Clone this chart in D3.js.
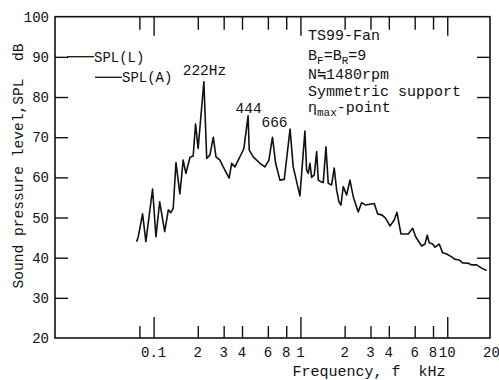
<!DOCTYPE html>
<html>
<head>
<meta charset="utf-8">
<script src="https://cdn.jsdelivr.net/npm/d3@7"></script>
<style>
  html, body { margin: 0; padding: 0; background: #fff; }
  svg { display: block; }
  text { font-family: "Liberation Mono", "DejaVu Sans Mono", monospace; fill: #111; }
</style>
</head>
<body>
<svg id="chart" width="499" height="380"></svg>
<script>
// spectrum: frequency in kHz, level in dB
const freqKHz = [0.0766, 0.0785, 0.0841, 0.0886, 0.0984, 0.1037, 0.110, 0.119, 0.126, 0.131,
  0.136, 0.142, 0.151, 0.159, 0.166, 0.177, 0.186, 0.193, 0.201, 0.220,
  0.230, 0.242, 0.255, 0.266, 0.283, 0.298, 0.314, 0.327, 0.340, 0.358,
  0.377, 0.398, 0.412, 0.440, 0.448, 0.477, 0.530, 0.573, 0.610, 0.645,
  0.678, 0.725, 0.776, 0.850, 0.893, 0.992, 1.073, 1.102, 1.130, 1.161,
  1.192, 1.242, 1.290, 1.322, 1.379, 1.430, 1.492, 1.547, 1.631, 1.699,
  1.765, 1.829, 1.887, 1.957, 2.064, 2.174, 2.289, 2.476, 2.612, 2.781,
  3.183, 3.357, 3.607, 3.806, 4.071, 4.355, 4.544, 4.837, 5.424, 5.812,
  6.091, 6.693, 7.05, 7.31, 7.54, 7.95, 8.25, 8.82, 9.30, 9.91,
  10.72, 11.28, 12.07, 12.73, 13.90, 14.66, 15.86, 17.15, 18.55];
const splDB = [44.0, 45.1, 50.9, 44.0, 57.1, 45.2, 53.9, 46.5, 51.9, 51.2,
  52.3, 63.7, 55.9, 64.3, 61.0, 65.0, 65.3, 73.3, 67.2, 83.8,
  64.7, 65.6, 70.0, 65.1, 64.3, 62.6, 61.0, 59.8, 63.5, 62.6,
  64.3, 66.0, 67.2, 75.3, 66.8, 65.1, 63.5, 62.6, 64.3, 70.0,
  63.5, 59.3, 59.5, 72.0, 62.6, 55.4, 71.5, 61.8, 61.0, 63.5,
  60.0, 60.6, 66.4, 59.3, 58.9, 58.7, 67.6, 58.5, 58.1, 62.3,
  56.8, 53.9, 53.1, 57.7, 55.6, 59.3, 55.2, 51.4, 53.7, 53.1,
  53.5, 50.9, 50.6, 49.8, 47.9, 49.4, 51.3, 45.9, 45.9, 47.3,
  45.2, 42.9, 43.4, 45.6, 43.7, 43.4, 42.6, 43.4, 41.2, 40.9,
  40.2, 39.6, 39.4, 38.7, 38.6, 38.2, 38.2, 37.4, 36.8];

const minorTicks = [0.08, 0.2, 0.3, 0.4, 0.6, 0.8, 2, 3, 4, 6, 8];
const majorTicks = [0.1, 1, 10];
const xLabelValues = [0.1, 0.2, 0.3, 0.4, 0.6, 0.8, 1, 2, 3, 4, 6, 8, 10, 20];
const xLabelTexts = ["0.1", "2", "3", "4", "6", "8", "1", "2", "3", "4", "6", "8", "10", "20"];
const yTicks = [20, 30, 40, 50, 60, 70, 80, 90, 100];

const peakLabels = ["222Hz", "444", "666"];
const peakFreq = [0.222, 0.444, 0.666];
const peakLevel = [85.5, 76.0, 72.5];

const infoLines = [
  [["TS99-Fan", 0]],
  [["B", 0], ["F", 1], ["=B", 0], ["R", 1], ["=9", 0]],
  [["N\u22521480rpm", 0]],
  [["Symmetric support", 0]],
  [["\u03b7", 0], ["max", 1], ["-point", 0]]
];

const svg = d3.select("#chart");
const plotLeft = 55, plotRight = 490, plotTop = 16.7, plotBottom = 338;
const ink = "#111";

const x = d3.scaleLog().domain([0.0213, 19.55]).range([plotLeft, plotRight]);
const y = d3.scaleLinear().domain([20, 100]).range([plotBottom, plotTop]);

// ticks, all pointing into the frame
function tickAxis(axis, translate, size, values) {
  const g = svg.append("g")
    .attr("transform", translate)
    .call(axis.tickValues(values).tickSize(-size).tickFormat(""));
  g.select(".domain").remove();
  g.selectAll(".tick line").attr("stroke", ink).attr("stroke-width", 1.4);
  return g;
}
tickAxis(d3.axisBottom(x), "translate(0," + plotBottom + ")", 12, minorTicks);
tickAxis(d3.axisBottom(x), "translate(0," + plotBottom + ")", 21, majorTicks);
tickAxis(d3.axisTop(x), "translate(0," + plotTop + ")", 13, minorTicks);
tickAxis(d3.axisTop(x), "translate(0," + plotTop + ")", 19, majorTicks);
tickAxis(d3.axisLeft(y), "translate(" + plotLeft + ",0)", 13, yTicks.slice(1, -1));
tickAxis(d3.axisRight(y), "translate(" + plotRight + ",0)", 13, yTicks.slice(1, -1));

// frame
svg.append("rect")
  .attr("x", plotLeft).attr("y", plotTop)
  .attr("width", plotRight - plotLeft).attr("height", plotBottom - plotTop)
  .attr("fill", "none").attr("stroke", ink).attr("stroke-width", 1.6);

// tick labels
svg.append("g").selectAll("text")
  .data(xLabelValues)
  .join("text")
  .attr("x", d => x(d))
  .attr("y", 357)
  .attr("text-anchor", "middle")
  .attr("font-size", 14)
  .text((d, i) => xLabelTexts[i]);

svg.append("g").selectAll("text")
  .data(yTicks)
  .join("text")
  .attr("x", 49)
  .attr("y", d => y(d))
  .attr("dy", "0.36em")
  .attr("text-anchor", "end")
  .attr("font-size", 14)
  .text(d => d);

// axis titles
svg.append("text")
  .attr("transform", "translate(23," + 166 + ")rotate(-90)")
  .attr("text-anchor", "middle")
  .attr("font-size", 14.6)
  .attr("xml:space", "preserve")
  .text("Sound pressure level,SPL  dB");

svg.append("text")
  .attr("x", 369)
  .attr("y", 376)
  .attr("text-anchor", "middle")
  .attr("font-size", 15)
  .attr("xml:space", "preserve")
  .text("Frequency, f  kHz");

// spectrum
const line = d3.line()
  .x((d, i) => x(freqKHz[i]))
  .y(d => y(d));

svg.append("path")
  .datum(splDB)
  .attr("d", line)
  .attr("fill", "none")
  .attr("stroke", ink)
  .attr("stroke-width", 1.6)
  .attr("stroke-linejoin", "round");

// peak annotations
svg.append("g").selectAll("text")
  .data(peakLabels)
  .join("text")
  .attr("x", (d, i) => x(peakFreq[i]))
  .attr("y", (d, i) => y(peakLevel[i]))
  .attr("text-anchor", "middle")
  .attr("font-size", 14.5)
  .text(d => d);

// legend
const legend = [["SPL(L)", 67, 56.7], ["SPL(A)", 95, 77.3]];
legend.forEach(([name, lx, ly]) => {
  svg.append("line")
    .attr("x1", lx).attr("x2", lx + 27)
    .attr("y1", ly).attr("y2", ly)
    .attr("stroke", ink).attr("stroke-width", 1.3);
  svg.append("text")
    .attr("x", lx + 27)
    .attr("y", ly + 5)
    .attr("font-size", 14)
    .text(name);
});

// test conditions
const infoBase = [40, 60, 79, 96, 112];
infoLines.forEach((parts, i) => {
  const t = svg.append("text")
    .attr("x", 308)
    .attr("y", infoBase[i])
    .attr("font-size", 15)
    .attr("xml:space", "preserve");
  parts.forEach(([s, sub], j) => {
    const ts = t.append("tspan").text(s);
    if (sub) {
      ts.attr("font-size", 11).attr("dy", 4);
    } else if (j > 0 && parts[j - 1][1]) {
      ts.attr("dy", -4);
    }
  });
});
</script>
</body>
</html>
